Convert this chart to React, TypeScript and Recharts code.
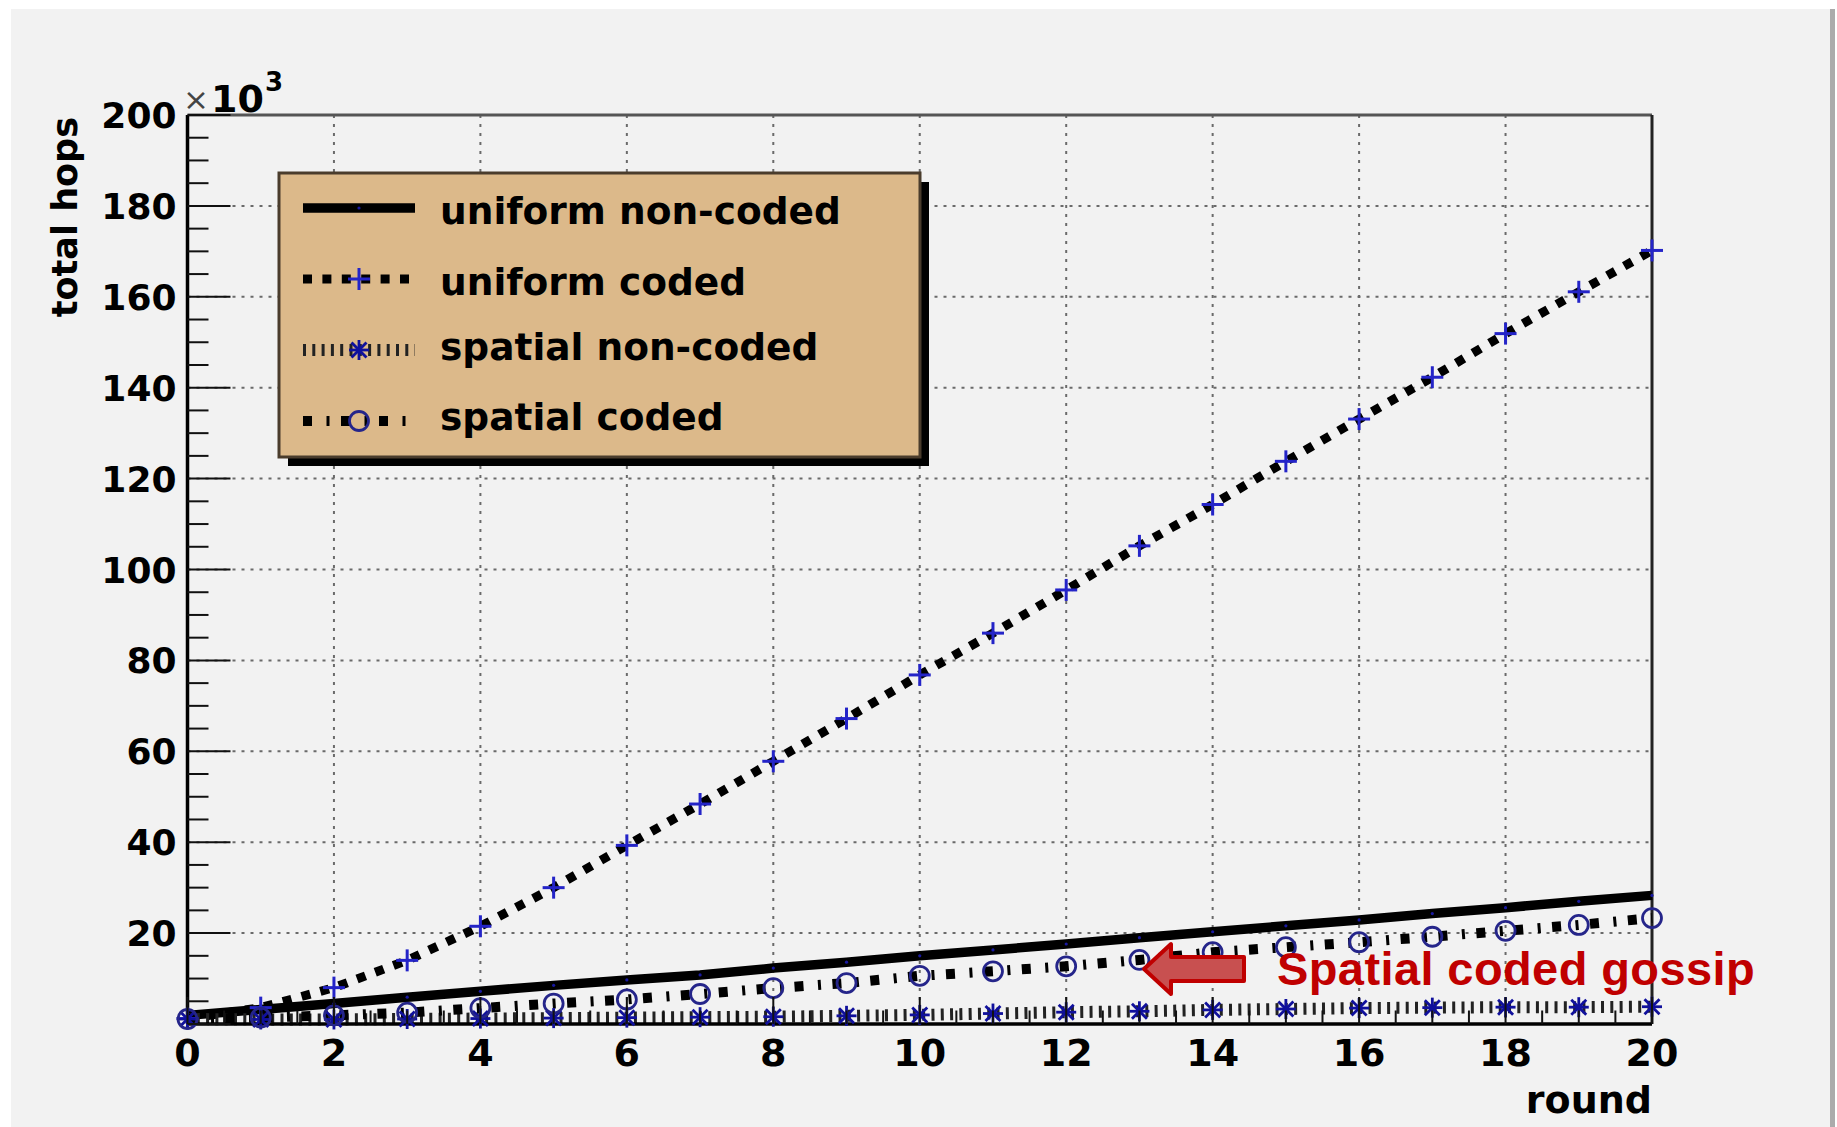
import React from 'react';
import { LineChart, Line, XAxis, YAxis, CartesianGrid, ReferenceLine } from 'recharts';

// total hops (x10^3) per gossip round
const rounds = [0, 1, 2, 3, 4, 5, 6, 7, 8, 9, 10, 11, 12, 13, 14, 15, 16, 17, 18, 19, 20];
const uniformNonCoded = [1.9, 3.2, 4.5, 5.9, 7.2, 8.5, 9.7, 10.8, 12.3, 13.6, 15.0, 16.3, 17.6, 19.0, 20.3, 21.6, 22.9, 24.3, 25.6, 27.0, 28.3];
const uniformCoded = [1.2, 3.6, 8.0, 14.0, 21.5, 30.0, 39.3, 48.4, 57.8, 67.2, 76.8, 86.0, 95.5, 105.2, 114.3, 123.8, 133.1, 142.3, 151.9, 161.1, 170.2];
const spatialNonCoded = [1.1, 1.0, 1.0, 1.1, 1.2, 1.3, 1.4, 1.5, 1.6, 1.8, 2.0, 2.3, 2.6, 2.8, 3.1, 3.3, 3.5, 3.6, 3.7, 3.7, 3.8];
const spatialCoded = [1.1, 1.4, 1.9, 2.5, 3.5, 4.5, 5.4, 6.6, 7.9, 9.0, 10.6, 11.6, 12.7, 14.1, 15.8, 16.9, 18.0, 19.2, 20.5, 21.8, 23.3];

const legendLabels = ['uniform non-coded', 'uniform coded', 'spatial non-coded', 'spatial coded'];

const yTicks = [0, 5, 10, 15, 20, 25, 30, 35, 40, 45, 50, 55, 60, 65, 70, 75, 80, 85, 90, 95, 100, 105, 110, 115, 120, 125, 130, 135, 140, 145, 150, 155, 160, 165, 170, 175, 180, 185, 190, 195, 200];
const xTicks = [0, 0.5, 1, 1.5, 2, 2.5, 3, 3.5, 4, 4.5, 5, 5.5, 6, 6.5, 7, 7.5, 8, 8.5, 9, 9.5, 10, 10.5, 11, 11.5, 12, 12.5, 13, 13.5, 14, 14.5, 15, 15.5, 16, 16.5, 17, 17.5, 18, 18.5, 19, 19.5, 20];
const yGrid = [20, 40, 60, 80, 100, 120, 140, 160, 180];
const xGrid = [2, 4, 6, 8, 10, 12, 14, 16, 18];

const data = rounds.map((r, i) => ({
  round: r,
  unc: uniformNonCoded[i],
  uc: uniformCoded[i],
  snc: spatialNonCoded[i],
  sc: spatialCoded[i],
}));

const W = 1837;
const H = 1127;
const FONT = '"DejaVu Sans", sans-serif';

const PlusMark = ({ cx, cy }: any) => (
  <g stroke="#2424c8" strokeWidth={3}>
    <line x1={cx - 11} x2={cx + 11} y1={cy} y2={cy} />
    <line x1={cx} x2={cx} y1={cy - 11} y2={cy + 11} />
  </g>
);

const StarMark = ({ cx, cy }: any) => (
  <g stroke="#10109c" strokeWidth={2.8}>
    <line x1={cx - 10} x2={cx + 10} y1={cy} y2={cy} />
    <line x1={cx} x2={cx} y1={cy - 10} y2={cy + 10} />
    <line x1={cx - 7.5} x2={cx + 7.5} y1={cy - 7.5} y2={cy + 7.5} />
    <line x1={cx - 7.5} x2={cx + 7.5} y1={cy + 7.5} y2={cy - 7.5} />
  </g>
);

const RingMark = ({ cx, cy }: any) => (
  <circle cx={cx} cy={cy} r={9.5} fill="none" stroke="#25258a" strokeWidth={2.8} />
);

const DotMark = ({ cx, cy }: any) => <circle cx={cx} cy={cy} r={1.6} fill="#1818a0" />;

const series = [
  { key: 'unc', stroke: '#000', width: 9.5, dash: undefined, Marker: DotMark },
  { key: 'uc', stroke: '#000', width: 9, dash: '9 10.4', Marker: PlusMark },
  { key: 'snc', stroke: '#222', width: 12, dash: '3 6.3', Marker: StarMark },
  { key: 'sc', stroke: '#000', width: 10, dash: '9 14.5 3 11.5', Marker: RingMark },
];

const YTick = (props: any) => {
  const { x, y, payload } = props;
  const v = payload.value;
  const major = v % 20 === 0;
  return (
    <g>
      <line x1={x} x2={x + (major ? 43 : 21)} y1={y} y2={y} stroke="#111" strokeWidth={2} />
      {major && v !== 0 && (
        <text x={x - 11} y={y + 13} textAnchor="end" fontFamily={FONT} fontWeight="bold" fontSize={36} fill="#000">
          {v}
        </text>
      )}
    </g>
  );
};

const XTick = (props: any) => {
  const { x, y, payload } = props;
  const v = payload.value;
  const major = v % 2 === 0;
  return (
    <g>
      <line x1={x} x2={x} y1={y} y2={y - (major ? 27 : 13.5)} stroke="#111" strokeWidth={2} />
      {major && (
        <text x={x} y={y + 42} textAnchor="middle" fontFamily={FONT} fontWeight="bold" fontSize={38} fill="#000">
          {v}
        </text>
      )}
    </g>
  );
};

const legendRowLine = [208, 279, 350, 421];
const legendRowText = [224, 295, 360, 430];

export default function App() {
  return (
    <div style={{ position: 'absolute', left: 0, top: 0, width: W, height: H, background: '#fff', overflow: 'hidden' }}>
      <div style={{ position: 'absolute', left: 11, top: 9, width: 1819, height: H - 9, background: '#f2f2f2', borderRight: '5px solid #ababab' }} />
      <div style={{ position: 'absolute', left: 0, top: 0 }}>
        <LineChart width={W} height={H} data={data} margin={{ top: 115, right: 185, bottom: 43, left: 107.5 }}>
          <CartesianGrid
            horizontalValues={yGrid}
            verticalValues={xGrid}
            stroke="#6a6a6a"
            strokeWidth={2}
            strokeDasharray="3 6"
          />
          <XAxis
            dataKey="round"
            type="number"
            domain={[0, 20]}
            ticks={xTicks}
            interval={0}
            height={60}
            tickSize={0}
            tickMargin={0}
            tickLine={false}
            tick={XTick}
            axisLine={{ stroke: '#000', strokeWidth: 3.5 }}
          />
          <YAxis
            type="number"
            domain={[0, 200]}
            ticks={yTicks}
            interval={0}
            width={80}
            tickSize={0}
            tickMargin={0}
            tickLine={false}
            tick={YTick}
            axisLine={{ stroke: '#000', strokeWidth: 3.5 }}
          />
          <ReferenceLine y={200} stroke="#555" strokeWidth={3} />
          <ReferenceLine x={20} stroke="#222" strokeWidth={3} />
          {series.map((s) => (
            <Line
              key={s.key}
              dataKey={s.key}
              type="linear"
              stroke={s.stroke}
              strokeWidth={s.width}
              strokeDasharray={s.dash}
              dot={(p: any) => <s.Marker key={`${s.key}-${p.index}`} cx={p.cx} cy={p.cy} />}
              activeDot={false}
              isAnimationActive={false}
            />
          ))}
        </LineChart>
      </div>
      <svg width={W} height={H} style={{ position: 'absolute', left: 0, top: 0, pointerEvents: 'none' }}>
        {/* legend box with drop shadow */}
        <rect x={288} y={182} width={641} height={284} fill="#000" />
        <rect x={279} y={173} width={641} height={284} fill="#dcb98a" stroke="#4a3c2c" strokeWidth={3} />
        {series.map((s, i) => (
          <g key={s.key}>
            <line
              x1={303}
              x2={415}
              y1={legendRowLine[i]}
              y2={legendRowLine[i]}
              stroke={s.stroke}
              strokeWidth={s.width}
              strokeDasharray={s.dash}
            />
            <s.Marker cx={359} cy={legendRowLine[i]} />
            <text x={440} y={legendRowText[i]} fontFamily={FONT} fontWeight="bold" fontSize={37.5} fill="#000">
              {legendLabels[i]}
            </text>
          </g>
        ))}

        {/* axis titles */}
        <text transform="translate(77,117) rotate(-90)" textAnchor="end" fontFamily={FONT} fontWeight="bold" fontSize={35} fill="#000">
          total hops
        </text>
        <text x={1652} y={1113} textAnchor="end" fontFamily={FONT} fontWeight="bold" fontSize={38} fill="#000">
          round
        </text>
        <text x={183} y={110} fontFamily={FONT} fontSize={31} fill="#444">×</text>
        <text x={211} y={112} fontFamily={FONT} fontWeight="bold" fontSize={38} fill="#000">10</text>
        <text x={265} y={91} fontFamily={FONT} fontWeight="bold" fontSize={26} fill="#000">3</text>

        {/* annotation */}
        <polygon
          points="1144,969 1171,944 1171,957 1244,957 1244,981 1171,981 1171,994"
          fill="#c85050"
          stroke="#c00000"
          strokeWidth={4}
          strokeLinejoin="round"
        />
        <text x={1277} y={985} fontFamily='"Liberation Sans", Arial, sans-serif' fontWeight="bold" fontSize={47} letterSpacing={0.4} fill="#c00000">
          Spatial coded gossip
        </text>
      </svg>
    </div>
  );
}
